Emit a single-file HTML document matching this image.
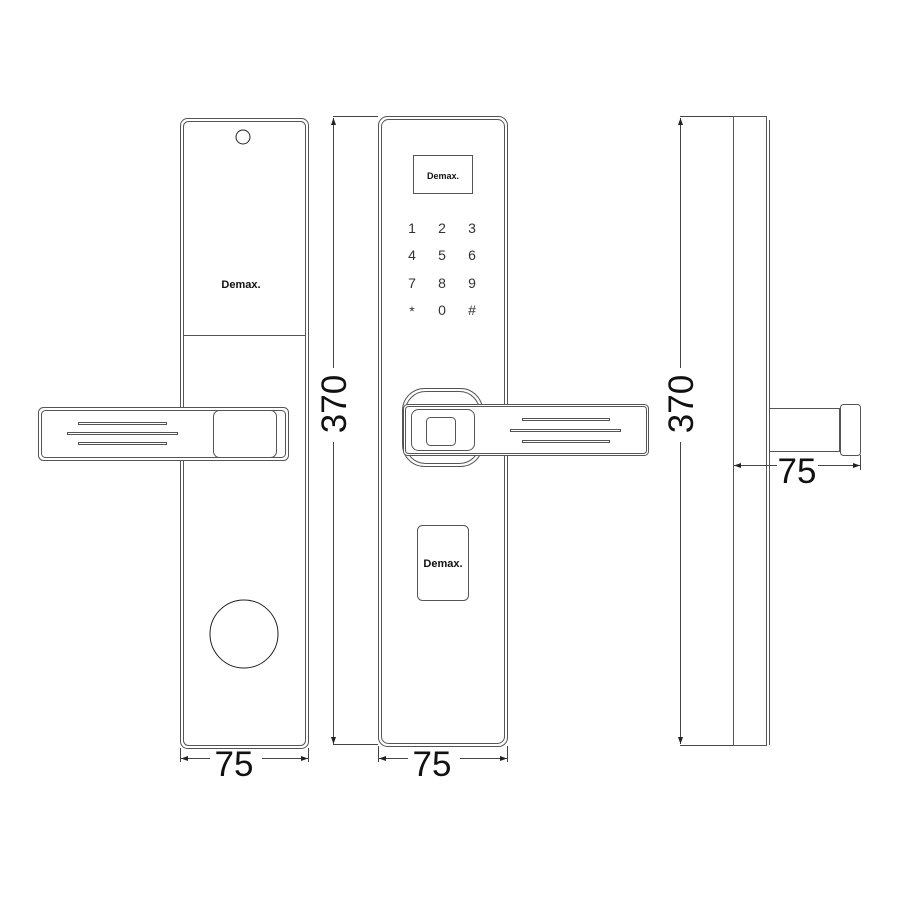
<!DOCTYPE html>
<html><head><meta charset="utf-8"><style>body{margin:0;background:#fff}svg{display:block}</style></head><body>
<svg width="900" height="900" viewBox="0 0 900 900" xmlns="http://www.w3.org/2000/svg" font-family="Liberation Sans, sans-serif">
<rect width="900" height="900" fill="#fff"/>
<g fill="none" stroke="#555" stroke-width="1">
<!-- left plate -->
<rect x="180.5" y="118.5" width="128" height="630" rx="7"/>
<rect x="183.5" y="121.5" width="122" height="624" rx="5"/>
<line x1="183" y1="335.5" x2="306" y2="335.5"/>
<circle cx="243" cy="137" r="7" stroke="#222"/>
<circle cx="244" cy="634" r="34" stroke="#222"/>
<!-- left handle -->
<rect x="38.5" y="407.5" width="250" height="53" rx="5" fill="#fff"/>
<rect x="41.5" y="410.5" width="244" height="47" rx="4"/>
<rect x="213.5" y="410.5" width="63" height="47" rx="6"/>
<rect x="78.5" y="422.5" width="88" height="2" />
<rect x="67.5" y="432.5" width="110" height="2" />
<rect x="78.5" y="442.5" width="88" height="2" />
<!-- middle plate -->
<rect x="378.5" y="116.5" width="129" height="630" rx="9"/>
<rect x="381.5" y="119.5" width="123" height="624" rx="7"/>
<rect x="413.5" y="155.5" width="59" height="38"/>
<rect x="417.5" y="525.5" width="51" height="75" rx="5"/>
<rect x="402.5" y="388.5" width="80" height="78" rx="22" fill="#fff"/>
<rect x="405.5" y="391.5" width="74" height="72" rx="20"/>
<rect x="403.5" y="404.5" width="245" height="51" rx="4" fill="#fff"/>
<rect x="405.5" y="406.5" width="241" height="47" rx="3"/>
<rect x="411.5" y="409.5" width="63" height="41" rx="7"/>
<rect x="426.5" y="417.5" width="29" height="28" rx="4"/>
<rect x="522.5" y="418.5" width="87" height="2"/>
<rect x="510.5" y="429.5" width="110" height="2"/>
<rect x="522.5" y="440.5" width="87" height="2"/>
<!-- right side -->
<rect x="733.5" y="116.5" width="33" height="629"/>
<line x1="769.5" y1="120" x2="769.5" y2="745"/>
<rect x="769.5" y="408.5" width="70" height="43"/>
<rect x="840.5" y="404.5" width="20" height="51" rx="3"/>
</g>
<g stroke="#444" stroke-width="1" fill="none">
<!-- dimension lines -->
<line x1="333.5" y1="118" x2="333.5" y2="368"/>
<line x1="333.5" y1="442" x2="333.5" y2="744"/>
<line x1="333" y1="116.5" x2="378" y2="116.5"/>
<line x1="333" y1="744.5" x2="378" y2="744.5"/>
<line x1="680.5" y1="118" x2="680.5" y2="368"/>
<line x1="680.5" y1="442" x2="680.5" y2="744"/>
<line x1="680" y1="116.5" x2="733" y2="116.5"/>
<line x1="680" y1="745.5" x2="733" y2="745.5"/>
<line x1="180.5" y1="748" x2="180.5" y2="762"/><line x1="308.5" y1="748" x2="308.5" y2="762"/>
<line x1="181" y1="758.5" x2="210" y2="758.5"/><line x1="262" y1="758.5" x2="308" y2="758.5"/>
<line x1="378.5" y1="746" x2="378.5" y2="762"/><line x1="507.5" y1="746" x2="507.5" y2="762"/>
<line x1="379" y1="758.5" x2="408" y2="758.5"/><line x1="460" y1="758.5" x2="507" y2="758.5"/>
<line x1="860.5" y1="455" x2="860.5" y2="470"/>
<line x1="734" y1="465.5" x2="777" y2="465.5"/><line x1="818" y1="465.5" x2="860" y2="465.5"/>
</g>
<g fill="#222">
<path d="M333.5 118 l-2.5 7 h5z"/><path d="M333.5 744 l-2.5 -7 h5z"/>
<path d="M680.5 118 l-2.5 7 h5z"/><path d="M680.5 744 l-2.5 -7 h5z"/>
<path d="M181 758.5 l7 -2.5 v5z"/><path d="M308 758.5 l-7 -2.5 v5z"/>
<path d="M379 758.5 l7 -2.5 v5z"/><path d="M507 758.5 l-7 -2.5 v5z"/>
<path d="M734 465.5 l7 -2.5 v5z"/><path d="M860 465.5 l-7 -2.5 v5z"/>
</g>
<g fill="#111" font-size="35">
<text transform="translate(346 404) rotate(-90)" text-anchor="middle">370</text>
<text transform="translate(693 404) rotate(-90)" text-anchor="middle">370</text>
<text x="234" y="776" text-anchor="middle">75</text>
<text x="432" y="776" text-anchor="middle">75</text>
<text x="797" y="483" text-anchor="middle">75</text>
</g>
<g fill="#111" font-weight="bold" text-anchor="middle">
<text x="241" y="288" font-size="11">Demax.</text>
<text x="443" y="179" font-size="9">Demax.</text>
<text x="443" y="567" font-size="11">Demax.</text>
</g>
<g fill="#333" font-size="14" text-anchor="middle">
<text x="412" y="233">1</text><text x="442" y="233">2</text><text x="472" y="233">3</text>
<text x="412" y="260">4</text><text x="442" y="260">5</text><text x="472" y="260">6</text>
<text x="412" y="288">7</text><text x="442" y="288">8</text><text x="472" y="288">9</text>
<text x="412" y="316">*</text><text x="442" y="315">0</text><text x="472" y="315">#</text>
</g>
</svg>
</body></html>
